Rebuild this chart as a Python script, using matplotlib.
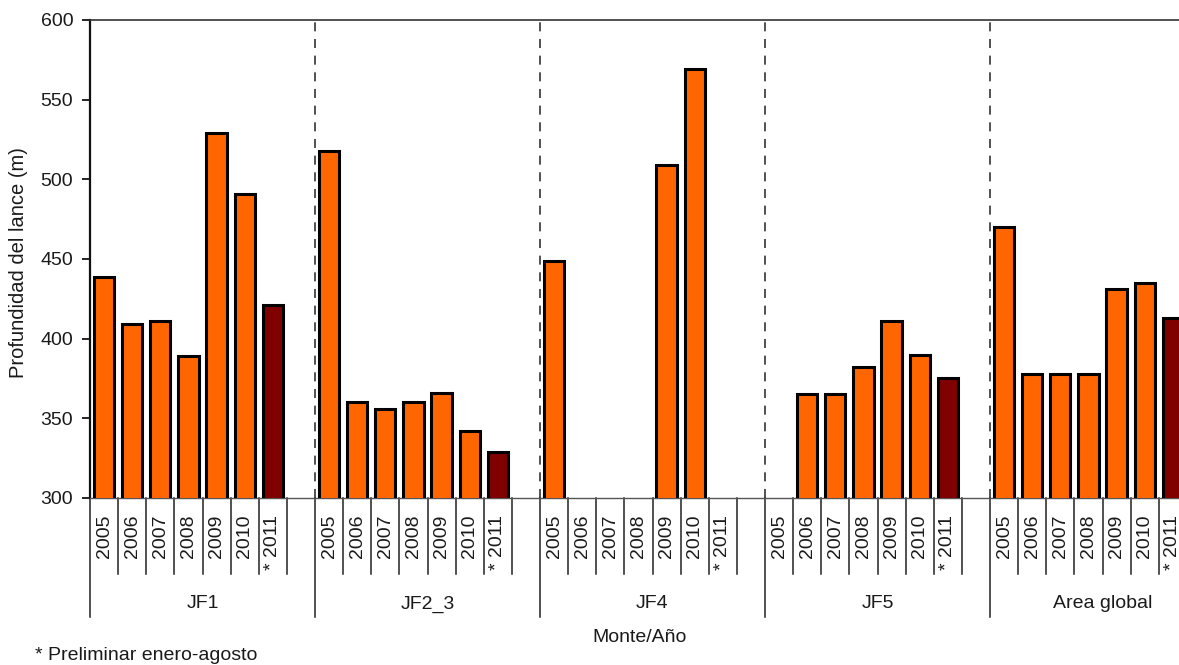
import numpy as np
import matplotlib
matplotlib.use("Agg")
import matplotlib.pyplot as plt
from matplotlib.transforms import blended_transform_factory

plt.rcParams["font.family"] = ["Liberation Sans", "DejaVu Sans"]
plt.rcParams["lines.scale_dashes"] = False

# Profundidad media del lance por monte y año
groups = ["JF1", "JF2_3", "JF4", "JF5", "Area global"]
years = ["2005", "2006", "2007", "2008", "2009", "2010", "* 2011"]

jf1 = [439, 409, 411, 389, 529, 491, 421]
jf2_3 = [518, 360, 356, 360, 366, 342, 329]
jf4 = [449, np.nan, np.nan, np.nan, 509, 569, np.nan]
jf5 = [np.nan, 365, 365, 382, 411, 390, 375]
area_global = [470, 378, 378, 378, 431, 435, 413]

series = [jf1, jf2_3, jf4, jf5, area_global]

orange = "#FF6600"
dark_red = "#800000"
text_col = "#1a1a1a"
slots = len(years) + 1  # un hueco vacío al final de cada monte

fig = plt.figure(figsize=(11.79, 6.65), dpi=100)
ax = fig.add_axes([90 / 1179, 167 / 665, 1125 / 1179, 478 / 665])

for g, vals in enumerate(series):
    x = g * slots + np.arange(len(years)) + 0.5
    colors = [orange] * (len(years) - 1) + [dark_red]
    ax.bar(x, vals, width=0.72, color=colors, edgecolor="black",
           linewidth=2.2, zorder=3)

ax.set_xlim(0, slots * len(groups))
ax.set_ylim(300, 600)
ax.set_yticks(np.arange(300, 601, 50))
ax.set_xticks([])
ax.tick_params(axis="y", length=6, width=1.2, pad=6, labelsize=14,
               labelcolor=text_col)

ax.spines["left"].set_linewidth(1.6)
ax.spines["left"].set_color("#111111")
ax.spines["top"].set_linewidth(1.2)
ax.spines["top"].set_color("#333333")
ax.spines["bottom"].set_linewidth(1.0)
ax.spines["bottom"].set_color("#555555")
ax.spines["right"].set_visible(False)

# separadores discontinuos entre montes
for g in range(1, len(groups)):
    ax.axvline(g * slots, color="#333333", linewidth=1.2,
               dashes=(6.5, 5.5), zorder=1)

# ejes de categorías bajo el gráfico
trans = blended_transform_factory(ax.transData, ax.transAxes)
short_len = -76 / 478
long_len = -119 / 478
for g, name in enumerate(groups):
    base = g * slots
    ax.plot([base, base], [0, long_len], transform=trans, color="#222222",
            linewidth=1.1, clip_on=False)
    for k in range(1, slots):
        ax.plot([base + k, base + k], [0, short_len], transform=trans,
                color="#222222", linewidth=1.1, clip_on=False)
    for k, yr in enumerate(years):
        ax.text(base + k + 0.5, -17 / 478, yr, transform=trans, rotation=90,
                ha="center", va="top", fontsize=14, color=text_col)
    ax.text(base + slots / 2, -106 / 478, name, transform=trans,
            ha="center", va="center", fontsize=14, color=text_col)

fig.text(19 / 1179, 1 - 263 / 665, "Profundidad del lance (m)", rotation=90,
         ha="center", va="center", fontsize=14.5, color=text_col)
fig.text(640 / 1179, 1 - 637 / 665, "Monte/Año", ha="center", va="center",
         fontsize=14, color=text_col)
fig.text(35 / 1179, 1 - 655 / 665, "* Preliminar enero-agosto", ha="left",
         va="center", fontsize=14, color=text_col)

fig.savefig("out.png", dpi=100)
